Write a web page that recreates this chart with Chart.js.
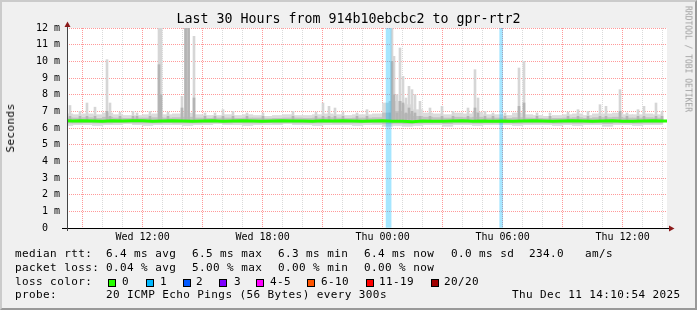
<!DOCTYPE html>
<html>
<head>
<meta charset="utf-8">
<script src="https://cdn.jsdelivr.net/npm/chart.js@4.4.1/dist/chart.umd.min.js"></script>
<style>
  html, body { margin: 0; padding: 0; background: #f0f0f0; }
  #wrap { position: relative; width: 697px; height: 310px; background: #f0f0f0; overflow: hidden;
          font-family: 'DejaVu Sans Mono', monospace; color: #000; }
  #wrap canvas { position: absolute; left: 0; top: 0; }
  .t { position: absolute; white-space: pre; font-size: 11px; line-height: 14px; letter-spacing: 0.4px; }
  .box { position: absolute; top: 279px; width: 6px; height: 6px; border: 1px solid #000; }
  #title { position: absolute; left: 0; top: 12px; width: 697px; text-align: center; font-size: 13.3px; line-height: 14px; white-space: pre; }
  #ylab { position: absolute; left: 10.5px; top: 128px; transform: translate(-50%, -50%) rotate(-90deg);
          font-size: 11px; line-height: 12px; letter-spacing: 0.4px; white-space: pre; }
  #mark { position: absolute; left: 688px; top: 59px; transform: translate(-50%, -50%) rotate(90deg);
          font-size: 8px; line-height: 9px; color: #a0a0a0; white-space: pre; }
  #frame { position: absolute; left: 0; top: 0; width: 697px; height: 310px; box-sizing: border-box;
           border: 2px solid; border-color: #cbcbcb #999 #999 #cbcbcb; pointer-events: none; }
</style>
</head>
<body>
<div id="wrap">
  <canvas id="grafico" width="697" height="310"></canvas>
  <div id="title">Last 30 Hours from 914b10ebcbc2 to gpr-rtr2</div>
  <div id="ylab">Seconds</div>
  <div id="mark">RRDTOOL / TOBI OETIKER</div>

  <div class="t" style="left:15px;top:247px">median rtt:</div>
  <div class="t" style="left:106px;top:247px">6.4 ms avg</div>
  <div class="t" style="left:192px;top:247px">6.5 ms max</div>
  <div class="t" style="left:278px;top:247px">6.3 ms min</div>
  <div class="t" style="left:364px;top:247px">6.4 ms now</div>
  <div class="t" style="left:451px;top:247px">0.0 ms sd</div>
  <div class="t" style="left:529px;top:247px">234.0</div>
  <div class="t" style="left:585px;top:247px">am/s</div>

  <div class="t" style="left:15px;top:261px">packet loss:</div>
  <div class="t" style="left:106px;top:261px">0.04 % avg</div>
  <div class="t" style="left:192px;top:261px">5.00 % max</div>
  <div class="t" style="left:278px;top:261px">0.00 % min</div>
  <div class="t" style="left:364px;top:261px">0.00 % now</div>

  <div class="t" style="left:15px;top:275px">loss color:</div>
  <div class="box" style="left:108px;background:#26ff00"></div><div class="t" style="left:122px;top:275px">0</div>
  <div class="box" style="left:146px;background:#00b8ff"></div><div class="t" style="left:160px;top:275px">1</div>
  <div class="box" style="left:183px;background:#0059ff"></div><div class="t" style="left:196px;top:275px">2</div>
  <div class="box" style="left:219px;background:#7e00ff"></div><div class="t" style="left:234px;top:275px">3</div>
  <div class="box" style="left:256px;background:#ff00ff"></div><div class="t" style="left:270px;top:275px">4-5</div>
  <div class="box" style="left:307px;background:#ff5500"></div><div class="t" style="left:321px;top:275px">6-10</div>
  <div class="box" style="left:366px;background:#ff0000"></div><div class="t" style="left:379px;top:275px">11-19</div>
  <div class="box" style="left:431px;background:#a00000"></div><div class="t" style="left:444px;top:275px">20/20</div>

  <div class="t" style="left:15px;top:288px">probe:</div>
  <div class="t" style="left:106px;top:288px">20 ICMP Echo Pings (56 Bytes) every 300s</div>
  <div class="t" style="left:512px;top:288px">Thu Dec 11 14:10:54 2025</div>

  <div id="frame"></div>
</div>
<script>
// horas contadas desde el miércoles 00:00
const horaInicio = 8.22;
const horaFin = 38.22;

const etiquetasHora = [12, 18, 24, 30, 36];
const etiquetasTexto = ['Wed 12:00', 'Wed 18:00', 'Thu 00:00', 'Thu 06:00', 'Thu 12:00'];

// humo base (cada 30 min), en ms
const horasBase = [8.25,8.75,9.25,9.75,10.25,10.75,11.25,11.75,12.25,12.75,13.25,13.75,14.25,14.75,15.25,15.75,
  16.25,16.75,17.25,17.75,18.25,18.75,19.25,19.75,20.25,20.75,21.25,21.75,22.25,22.75,23.25,23.75,
  24.25,24.75,25.25,25.75,26.25,26.75,27.25,27.75,28.25,28.75,29.25,29.75,30.25,30.75,31.25,31.75,
  32.25,32.75,33.25,33.75,34.25,34.75,35.25,35.75,36.25,36.75,37.25,37.75];
const humoAlto = [6.85,6.8,6.85,6.8,6.9,6.8,6.75,6.75,6.8,6.85,6.8,6.85,6.9,6.8,6.75,6.75,
  6.8,6.75,6.8,6.75,6.7,6.75,6.8,6.75,6.75,6.8,6.85,6.8,6.75,6.8,6.8,6.85,
  7.5,7.6,7.4,7.1,6.9,6.85,6.8,6.9,6.85,6.95,6.8,6.8,6.75,6.9,6.8,6.75,
  6.7,6.75,6.8,6.85,6.75,6.85,6.85,6.9,6.8,6.8,6.85,6.8];
const humoBajo = [6.15,6.2,6.2,6.15,6.2,6.2,6.25,6.2,6.15,6.2,6.2,6.2,6.15,6.2,6.2,6.25,
  6.2,6.2,6.15,6.2,6.2,6.2,6.25,6.2,6.2,6.15,6.2,6.2,6.2,6.15,6.2,6.2,
  6.1,6.15,6.1,6.15,6.2,6.2,6.1,6.2,6.2,6.15,6.2,6.2,6.2,6.15,6.2,6.2,
  6.2,6.15,6.2,6.15,6.2,6.2,6.1,6.2,6.2,6.15,6.2,6.2];
const nucleoAlto = [6.6,6.6,6.62,6.58,6.65,6.6,6.58,6.6,6.6,6.62,6.6,6.62,6.65,6.6,6.58,6.6,
  6.6,6.58,6.6,6.6,6.56,6.58,6.6,6.6,6.58,6.6,6.62,6.6,6.58,6.6,6.6,6.62,
  6.9,7.0,6.85,6.7,6.65,6.62,6.6,6.65,6.62,6.65,6.6,6.6,6.58,6.62,6.6,6.58,
  6.56,6.58,6.6,6.62,6.58,6.62,6.62,6.65,6.6,6.6,6.62,6.6];
const nucleoBajo = [6.3,6.3,6.32,6.3,6.3,6.32,6.33,6.3,6.3,6.3,6.32,6.3,6.3,6.3,6.32,6.33,
  6.3,6.32,6.3,6.3,6.32,6.3,6.33,6.3,6.3,6.3,6.32,6.3,6.3,6.3,6.32,6.3,
  6.25,6.28,6.25,6.28,6.3,6.3,6.26,6.3,6.3,6.28,6.3,6.3,6.3,6.28,6.3,6.3,
  6.3,6.28,6.3,6.28,6.3,6.3,6.26,6.3,6.3,6.28,6.3,6.3];

// picos de humo
const horasPico = [8.37,8.87,9.22,9.62,10.22,10.37,10.87,11.52,11.72,12.37,12.82,12.92,13.27,13.97,14.15,14.3,
  14.57,15.12,15.62,16.02,16.52,17.22,18.02,19.52,20.67,21.02,21.32,21.62,22.02,22.72,23.22,
  24.37,24.47,24.57,24.72,24.87,25.02,25.17,25.32,25.47,25.62,25.87,26.37,26.97,27.52,28.27,
  28.62,28.77,29.12,29.52,30.12,30.82,31.07,31.72,32.37,33.27,33.77,34.27,34.87,35.17,35.87,
  36.22,36.77,37.07,37.67,37.97];
const picoAlto = [7.35,7.0,7.5,7.25,10.1,7.5,6.95,7.0,6.9,7.0,12,12,6.95,7.9,12,12,
  11.5,6.9,6.9,7.1,7.0,6.9,6.9,7.0,6.95,7.5,7.3,7.2,6.95,6.9,7.1,
  7.6,12,10.3,8.0,10.8,9.1,7.8,8.5,8.3,8.0,7.6,7.2,7.3,7.0,7.2,
  9.5,7.8,7.0,6.9,6.9,9.6,10.0,6.9,6.9,6.95,7.1,7.0,7.4,7.3,8.3,
  6.9,7.1,7.3,7.5,7.0];
const picoNucleo = [6.7,6.7,6.7,6.7,7.0,6.7,6.7,6.7,6.7,6.7,9.8,8.0,6.7,7.2,12,12,
  7.8,6.7,6.7,6.7,6.7,6.7,6.7,6.7,6.7,6.7,6.7,6.7,6.7,6.7,6.7,
  6.9,10.0,8.0,6.9,7.6,7.5,6.9,7.2,7.0,6.9,6.7,6.7,6.7,6.7,6.7,
  7.2,6.9,6.7,6.7,6.7,7.3,7.5,6.7,6.7,6.7,6.7,6.7,6.7,6.7,7.0,
  6.7,6.7,6.7,6.7,6.7];

// mediana
const horasMediana = [8.22,8.5,9,9.5,10,10.5,11,11.5,12,12.5,13,13.5,14,14.5,15,15.5,16,16.5,17,17.5,
  18,18.5,19,19.5,20,20.5,21,21.5,22,22.5,23,23.5,24,24.5,25,25.5,26,26.5,27,27.5,
  28,28.5,29,29.5,30,30.5,31,31.5,32,32.5,33,33.5,34,34.5,35,35.5,36,36.5,37,37.5,38,38.22];
const medianaRtt = [6.43,6.42,6.44,6.42,6.41,6.43,6.42,6.44,6.43,6.41,6.42,6.43,6.42,6.4,6.42,6.43,6.41,6.42,6.43,6.42,
  6.41,6.42,6.43,6.42,6.42,6.41,6.43,6.42,6.44,6.42,6.41,6.42,6.43,6.4,6.41,6.38,6.42,6.4,6.41,6.42,
  6.43,6.41,6.42,6.4,6.42,6.41,6.42,6.43,6.42,6.41,6.42,6.43,6.42,6.41,6.42,6.43,6.41,6.4,6.42,6.43,6.42,6.42];

// pérdidas (1/20)
const horasPerdida = [24.3, 29.93];
const techoY = 12;

const colorRojo = 'rgba(255,0,0,0.4)';
const colorGris = 'rgba(140,140,140,0.32)';

const ejes = {
    id: 'ejes',
    beforeDraw(chart) {
        const {ctx, chartArea: a} = chart;
        ctx.save();
        ctx.fillStyle = '#ffffff';
        ctx.fillRect(a.left, a.top, a.right - a.left, a.bottom - a.top);
        ctx.restore();
    },
    afterDatasetsDraw(chart) {
        const {ctx, chartArea: a} = chart;
        const yb = Math.round(a.bottom) + 0.5;
        const xl = Math.round(a.left) + 0.5;
        ctx.save();
        ctx.lineWidth = 1;
        ctx.strokeStyle = '#000';
        ctx.beginPath();
        ctx.moveTo(a.left - 5, yb);
        ctx.lineTo(a.right + 3, yb);
        ctx.stroke();
        ctx.strokeStyle = '#444';
        ctx.beginPath();
        ctx.moveTo(xl, a.bottom + 3);
        ctx.lineTo(xl, a.top - 3);
        ctx.stroke();
        ctx.fillStyle = '#8b1a1a';
        ctx.beginPath();
        ctx.moveTo(xl, a.top - 6.5);
        ctx.lineTo(xl - 3, a.top - 1);
        ctx.lineTo(xl + 3, a.top - 1);
        ctx.closePath();
        ctx.fill();
        ctx.beginPath();
        ctx.moveTo(a.right + 7.5, yb);
        ctx.lineTo(a.right + 2, yb - 3);
        ctx.lineTo(a.right + 2, yb + 3);
        ctx.closePath();
        ctx.fill();
        ctx.restore();
    }
};

const puntos = (xs, f) => xs.map((x, i) => ({x: x, y: f(i)}));

const ticksHora = [];
for (let h = 9; h <= 38; h++) ticksHora.push(h);
const ticksY = [];
for (let v = 0; v <= techoY; v += 0.5) ticksY.push(v);

const ctx = document.getElementById('grafico').getContext('2d');
new Chart(ctx, {
    type: 'bar',
    data: {
        datasets: [
            {
                label: 'loss1',
                data: [{x: horasPerdida[0], y: [0, techoY]}],
                backgroundColor: 'rgba(0,184,255,0.35)',
                barThickness: 5, grouped: false, order: 4
            },
            {
                label: 'loss2',
                data: [{x: horasPerdida[1], y: [0, techoY]}],
                backgroundColor: 'rgba(0,184,255,0.35)',
                barThickness: 3, grouped: false, order: 4
            },
            {
                label: 'humo',
                data: puntos(horasBase, i => [humoBajo[i], humoAlto[i]]),
                backgroundColor: '#dcdcdc',
                barThickness: 10.5, grouped: false, order: 8
            },
            {
                label: 'picos',
                data: puntos(horasPico, i => [6.5, picoAlto[i]]),
                backgroundColor: '#d6d6d6',
                barThickness: 2, grouped: false, order: 7
            },
            {
                label: 'nucleo',
                data: puntos(horasBase, i => [nucleoBajo[i], nucleoAlto[i]]),
                backgroundColor: '#c2c2c2',
                barThickness: 10.5, grouped: false, order: 6
            },
            {
                label: 'picosNucleo',
                data: puntos(horasPico, i => [6.5, picoNucleo[i]]),
                backgroundColor: '#b4b4b4',
                barThickness: 2, grouped: false, order: 5
            },
            {
                type: 'line',
                label: 'mediana',
                data: puntos(horasMediana, i => medianaRtt[i]),
                borderColor: '#26ff00',
                borderWidth: 3,
                pointRadius: 0,
                tension: 0,
                fill: false,
                order: 1
            }
        ]
    },
    options: {
        responsive: false,
        animation: false,
        devicePixelRatio: 1,
        layout: { padding: { left: 0, top: 28, right: 30, bottom: 62 } },
        plugins: { legend: { display: false }, tooltip: { enabled: false } },
        scales: {
            x: {
                type: 'linear',
                min: horaInicio,
                max: horaFin,
                offset: false,
                afterBuildTicks: s => { s.ticks = ticksHora.map(v => ({value: v})); },
                afterFit: s => { s.height = 20; },
                grid: {
                    color: c => (c.tick && c.tick.value % 3 === 0) ? colorRojo : colorGris,
                    lineWidth: 1, drawTicks: false, offset: false
                },
                border: { display: false, dash: [1, 1] },
                ticks: {
                    autoSkip: false, maxRotation: 0, padding: 3, color: '#000',
                    font: { family: 'DejaVu Sans Mono', size: 10 },
                    callback: v => {
                        const i = etiquetasHora.indexOf(v);
                        return i >= 0 ? etiquetasTexto[i] : '';
                    }
                }
            },
            y: {
                min: 0,
                max: techoY,
                afterBuildTicks: s => { s.ticks = ticksY.map(v => ({value: v})); },
                afterFit: s => { s.width = 67; },
                grid: {
                    color: c => (c.tick && c.tick.value % 1 === 0) ? colorRojo : colorGris,
                    lineWidth: 1, drawTicks: false
                },
                border: { display: false, dash: [1, 1] },
                ticks: {
                    padding: 7, color: '#000',
                    font: { family: 'DejaVu Sans Mono', size: 10 },
                    callback: v => (v % 1 !== 0) ? '' : (v === 0 ? '0  ' : v + ' m')
                }
            }
        }
    },
    plugins: [ejes]
});
</script>
</body>
</html>
